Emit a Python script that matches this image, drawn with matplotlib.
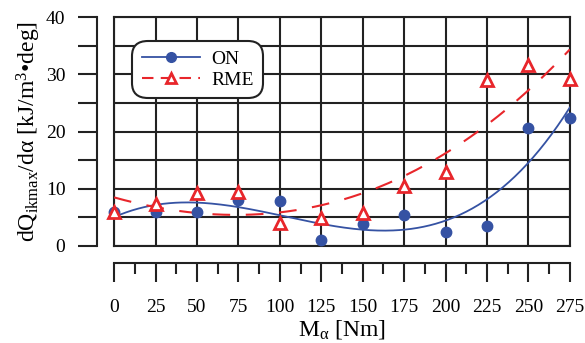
import numpy as np
import matplotlib
matplotlib.use("Agg")
import matplotlib.pyplot as plt
import matplotlib.ticker as plticker

plt.rcParams['font.family'] = ['Liberation Serif', 'DejaVu Serif']
plt.rcParams['mathtext.fontset'] = 'custom'
plt.rcParams['mathtext.rm'] = 'Liberation Serif'
plt.rcParams['mathtext.it'] = 'Liberation Serif:italic'

# torque [Nm]
torque = [0, 25, 50, 75, 100, 125, 150, 175, 200, 225, 250, 275]
# dQ/dalpha for each fuel [kJ/m3 deg]
on_vals = [6.0, 6.0, 6.0, 8.0, 7.8, 1.0, 3.8, 5.4, 2.4, 3.5, 20.6, 22.3]
rme_vals = [5.9, 7.3, 9.3, 9.4, 4.0, 4.9, 5.7, 10.5, 13.0, 29.0, 31.6, 29.2]

BLUE = '#3552a3'
RED = '#e8262b'
INK = '#222222'

fig = plt.figure(figsize=(5.85, 3.43), dpi=100)
ax = fig.add_axes([0.195, 0.283, 0.779, 0.667])

# polynomial trend lines
xs = np.linspace(0, 275, 300)
on_fit = np.polyval(np.polyfit(torque, on_vals, 3), xs)
rme_fit = np.polyval(np.polyfit(torque, rme_vals, 3), xs)

ax.plot(xs, on_fit, color=BLUE, lw=1.3, zorder=3)
ax.plot(xs, rme_fit, color=RED, lw=1.5, linestyle=(0, (8.5, 7.5)), zorder=3)
ax.plot(torque, on_vals, 'o', color=BLUE, ms=7.5, zorder=4, clip_on=False)
ax.plot(torque, rme_vals, '^', mfc='white', mec=RED, ms=8, mew=2,
        zorder=5, clip_on=False)

# legend proxies
h_on, = ax.plot([], [], '-o', color=BLUE, ms=7, lw=1.3)
h_rme, = ax.plot([], [], '^', color=RED, mfc='white', mec=RED, ms=6.5,
                 mew=2, linestyle=(0, (5.5, 3.5)), lw=1.5)
leg = ax.legend([h_on, h_rme], ['ON', 'RME'], loc='upper left',
                bbox_to_anchor=(0.042, 0.893), fontsize=14, handlelength=3,
                fancybox=True, framealpha=1, edgecolor=INK,
                borderpad=0.45, labelspacing=0.15, handletextpad=0.55,
                borderaxespad=0)
leg.get_frame().set_linewidth(1.5)
leg.get_frame().set_boxstyle('round,pad=0.05,rounding_size=0.8')
leg.set_zorder(6)

ax.set_xlim(0, 275)
ax.set_ylim(0, 40)
ax.xaxis.set_major_locator(plticker.MultipleLocator(25))
ax.xaxis.set_minor_locator(plticker.MultipleLocator(12.5))
ax.yaxis.set_major_locator(plticker.MultipleLocator(5))
ax.yaxis.set_major_formatter(plticker.FuncFormatter(
    lambda v, p: '%d' % v if v % 10 == 0 else ''))

ax.grid(True, which='major', color=INK, lw=1.5, zorder=1)
for v in (0, 40):
    ax.axhline(v, color=INK, lw=1.5, clip_on=False, zorder=1)
for v in (0, 275):
    ax.axvline(v, color=INK, lw=1.5, clip_on=False, zorder=1)

for side in ('top', 'right'):
    ax.spines[side].set_visible(False)
ax.spines['left'].set_position(('outward', 12))
ax.spines['bottom'].set_position(('outward', 12))
for side in ('left', 'bottom'):
    ax.spines[side].set_linewidth(1.5)
    ax.spines[side].set_color(INK)

ax.tick_params(axis='y', which='major', length=14, width=1.5, pad=9,
               labelsize=14, color=INK)
ax.tick_params(axis='x', which='major', length=14, width=1.5, pad=12,
               labelsize=14, color=INK)
ax.tick_params(axis='x', which='minor', length=8, width=1.5, color=INK)

ax.set_xlabel(r'M$_{\mathrm{α}}$ [Nm]', fontsize=17, labelpad=2)
ax.set_ylabel(r'dQ$_{\mathrm{ikmax}}$/dα [kJ/m$^{\mathrm{3}}$•deg]',
              fontsize=17, labelpad=2)

fig.savefig('out.png', dpi=100)
